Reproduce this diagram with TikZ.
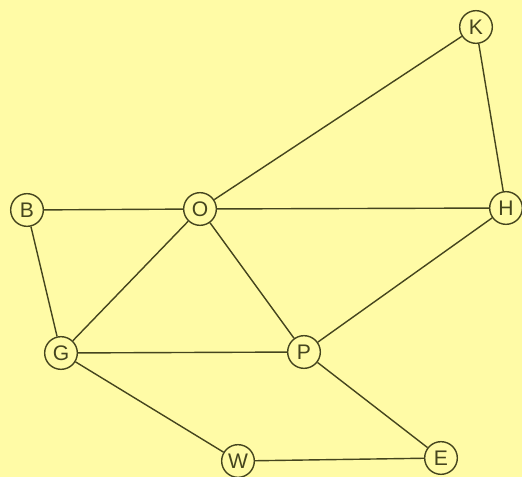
\documentclass[tikz,border=0pt]{standalone}
\usepackage{fontspec}
\setsansfont{Liberation Sans}
\usepackage{xcolor}
\definecolor{paperYellow}{HTML}{FFFBA6}
\definecolor{inkOlive}{HTML}{45451E}
\usepackage{tikz}
\usetikzlibrary{
    positioning,
    backgrounds
}
\tikzset{
    % Vertex style - small circle with one letter
    vertex/.style={
        circle,
        draw=inkOlive,
        line width=1.2pt,
        minimum size=0.98cm,
        inner sep=0pt,
        font=\sffamily\fontsize{18}{20}\selectfont,
        text=inkOlive,
    },
    % Edge style - plain line
    edge/.style={
        draw=inkOlive,
        line width=1.2pt,
    },
}

\begin{document}
\begin{tikzpicture}[x=0.03cm, y=-0.03cm]
    % background and margins
    \fill[paperYellow] (0,0) rectangle (522,477);
    \useasboundingbox (0,0) rectangle (522,477);

    \node (K) [vertex] at (476,27) {K};
    \node (B) [vertex] at (27,210) {B};
    \node (O) [vertex] at (200,209) {O};
    \node (H) [vertex] at (506,208) {H};
    \node (G) [vertex] at (61,353) {G};
    \node (P) [vertex] at (304,352) {P};
    \node (W) [vertex] at (238,461) {W};
    \node (E) [vertex] at (441,458) {E};

    \draw [edge] (K) -- (O);
    \draw [edge] (K) -- (H);
    \draw [edge] (B) -- (O);
    \draw [edge] (O) -- (H);
    \draw [edge] (B) -- (G);
    \draw [edge] (O) -- (G);
    \draw [edge] (O) -- (P);
    \draw [edge] (H) -- (P);
    \draw [edge] (G) -- (P);
    \draw [edge] (G) -- (W);
    \draw [edge] (P) -- (E);
    \draw [edge] (W) -- (E);
\end{tikzpicture}
\end{document}
